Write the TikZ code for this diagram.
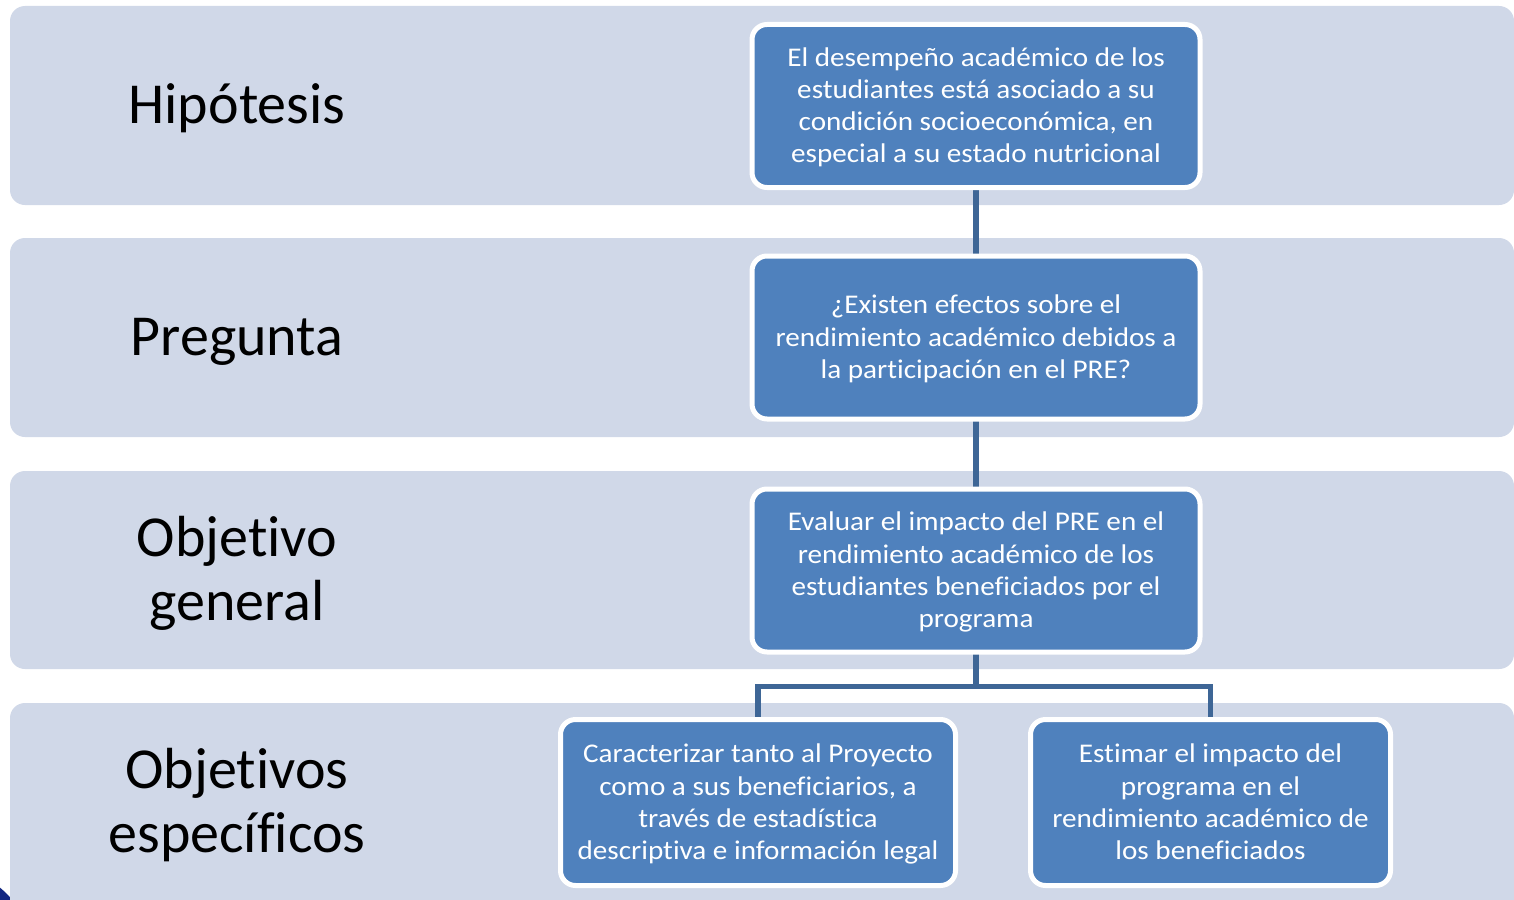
\documentclass[tikz,border=0pt]{standalone}
\usepackage{fontspec}
\setmainfont{Carlito}[Ligatures=NoCommon]
\newfontfamily\boxfont{Carlito}[Ligatures=NoCommon, FakeStretch=1.08]
\definecolor{band}{RGB}{208,216,232}
\definecolor{boxfill}{RGB}{79,129,189}
\definecolor{conn}{RGB}{62,102,150}
\definecolor{navy}{RGB}{20,40,130}
\pgfdeclarelayer{back}
\pgfdeclarelayer{mid}
\pgfsetlayers{back,mid,main}
\tikzset{
  bandbox/.style={fill=band, rounded corners=15pt},
  bluebox/.style={fill=boxfill, draw=white, line width=5pt, rounded corners=15pt,
    text=white, align=center, inner sep=0pt, text depth=1.5pt,
    font=\boxfont\fontsize{27}{32.2}\selectfont},
  label/.style={align=center, text=black, font=\fontsize{58}{64}\selectfont},
  link/.style={draw=conn, line width=5.5pt},
}
\begin{document}
\begin{tikzpicture}[x=1pt,y=-1pt]
\useasboundingbox (0,0) rectangle (1514,899);
\begin{pgfonlayer}{back}
\fill[white] (0,0) rectangle (1514,899);
\fill[navy] (-60,960) circle (94);
\fill[bandbox] (10,6) rectangle (1514,205);
\fill[bandbox] (10,238) rectangle (1514,437);
\fill[bandbox] (10,471) rectangle (1514,669);
\fill[bandbox] (10,703) rectangle (1514,920);
\end{pgfonlayer}

\node[label] (l1) at (237,108) {Hipótesis};
\node[label] (l2) at (237,342) {Pregunta};
\node[label] (l3) at (237,573) {Objetivo\\general};
\node[label] (l4) at (237,805) {Objetivos\\específicos};

\node[bluebox, minimum width=448pt, minimum height=163pt] (b1) at (976,106)
  {El desempeño académico de los\\estudiantes está asociado a su\\condición socioeconómica, en\\especial a su estado nutricional};
\node[bluebox, minimum width=448pt, minimum height=163pt] (b2) at (976,337.5)
  {¿Existen efectos sobre el\\rendimiento académico debidos a\\la participación en el PRE?};
\node[bluebox, minimum width=448pt, minimum height=163pt] (b3) at (976,570.5)
  {Evaluar el impacto del PRE en el\\rendimiento académico de los\\estudiantes beneficiados por el\\programa};
\node[bluebox, minimum width=395pt, minimum height=166pt] (b4) at (758,802.5)
  {Caracterizar tanto al Proyecto\\como a sus beneficiarios, a\\través de estadística\\descriptiva e información legal};
\node[bluebox, minimum width=360pt, minimum height=166pt] (b5) at (1210.5,802.5)
  {Estimar el impacto del\\programa en el\\rendimiento académico de\\los beneficiados};

\coordinate (j) at (976,686.5);
\begin{pgfonlayer}{mid}
\draw[link] (b1.center) -- (b2.center);
\draw[link] (b2.center) -- (b3.center);
\draw[link] (b3.center) -- (j);
\draw[link] (j) -| (b4.center);
\draw[link] (j) -| (b5.center);
\end{pgfonlayer}
\end{tikzpicture}
\end{document}
